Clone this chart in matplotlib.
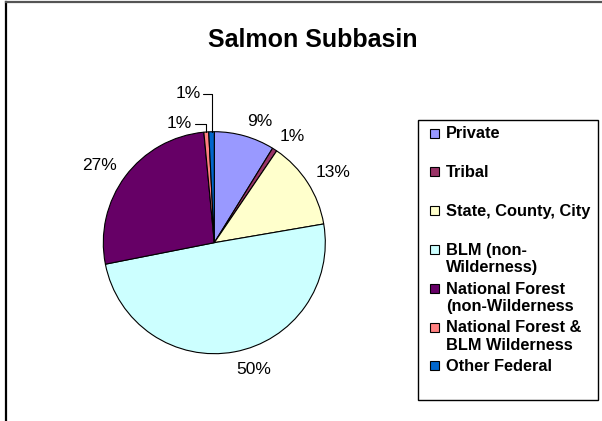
import numpy as np
import matplotlib
matplotlib.use("Agg")
import matplotlib.pyplot as plt
from matplotlib.patches import Rectangle
from matplotlib.lines import Line2D

plt.rcParams['font.family'] = ['Liberation Sans', 'DejaVu Sans']

title = "Salmon Subbasin"
categories = ["Private", "Tribal", "State, County, City", "BLM (non-\nWilderness)",
              "National Forest\n(non-Wilderness", "National Forest &\nBLM Wilderness",
              "Other Federal"]
values = [8.8, 0.7, 12.8, 49.6, 26.6, 0.7, 0.8]
colors = ["#9999FF", "#993366", "#FFFFCC", "#CCFFFF", "#660066", "#FF8080", "#0066CC"]
pct_labels = ["%d%%" % max(1, round(v)) for v in values]
leader_idx = (5, 6)  # small slices labelled with leader lines

W, H = 602, 421
fig = plt.figure(figsize=(W / 100, H / 100), dpi=100)


def fx(x):
    return x / W


def fy(y):
    return 1 - y / H


# outer chart frame (left and top edges visible)
fig.add_artist(Line2D([fx(5.5), fx(5.5)], [fy(2), fy(430)], color="black", lw=1.6,
                      transform=fig.transFigure))
fig.add_artist(Line2D([fx(5.5), fx(610)], [fy(2), fy(2)], color="#555555", lw=1.6,
                      transform=fig.transFigure))

# pie axes
cx, cy, r = 214.3, 242.7, 111.0
ax = fig.add_axes([fx(cx - r), fy(cy + r), 2 * r / W, 2 * r / H])

wedges, _ = ax.pie(values, colors=colors, startangle=90, counterclock=False,
                   radius=1, wedgeprops=dict(edgecolor="black", linewidth=0.8))
ax.set_xlim(-1, 1)
ax.set_ylim(-1, 1)
ax.set_aspect("equal")
ax.axis("off")

for i, w in enumerate(wedges):
    mid = np.deg2rad((w.theta1 + w.theta2) / 2)
    dx, dy = np.cos(mid), np.sin(mid)
    if i not in leader_idx:
        d = 1.09
        ha = "left" if dx > 0 else "right"
        va = "baseline" if dy > 0 else "top"
        ax.text(d * dx, d * dy, pct_labels[i], ha=ha, va=va, fontsize=12.5,
                clip_on=False)
    else:
        ex, ey = dx, dy
        if i == 5:
            tx, ty = ex - 0.13, ey + 0.075
        else:
            tx, ty = ex - 0.10, ey + 0.34
        ax.annotate(pct_labels[i], xy=(ex, ey), xytext=(tx, ty), ha="right",
                    va="center", fontsize=12.5, annotation_clip=False,
                    arrowprops=dict(arrowstyle="-", color="black", lw=0.8,
                                    connectionstyle="angle,angleA=0,angleB=90,rad=0",
                                    shrinkA=0, shrinkB=0))

# title
fig.text(fx(312.5), fy(47), title, ha="center", va="baseline", fontsize=18,
         fontweight="bold")

# legend (drawn manually to match the original layout)
fig.add_artist(Rectangle((fx(418), fy(400)), fx(598) - fx(418), fy(120) - fy(400),
                         transform=fig.transFigure, facecolor="white",
                         edgecolor="black", lw=1.0))
step = 38.8
for i, (lab, col) in enumerate(zip(categories, colors)):
    yc = 133 + i * step
    fig.add_artist(Rectangle((fx(430), fy(yc + 4.5)), 9 / W, 9 / H,
                             transform=fig.transFigure, facecolor=col,
                             edgecolor="black", lw=0.8))
    fig.text(fx(446), fy(yc - 6.5), lab, ha="left", va="top", fontsize=11.8,
             fontweight="bold", linespacing=1.2)

fig.savefig("out.png", dpi=100, facecolor="white")
